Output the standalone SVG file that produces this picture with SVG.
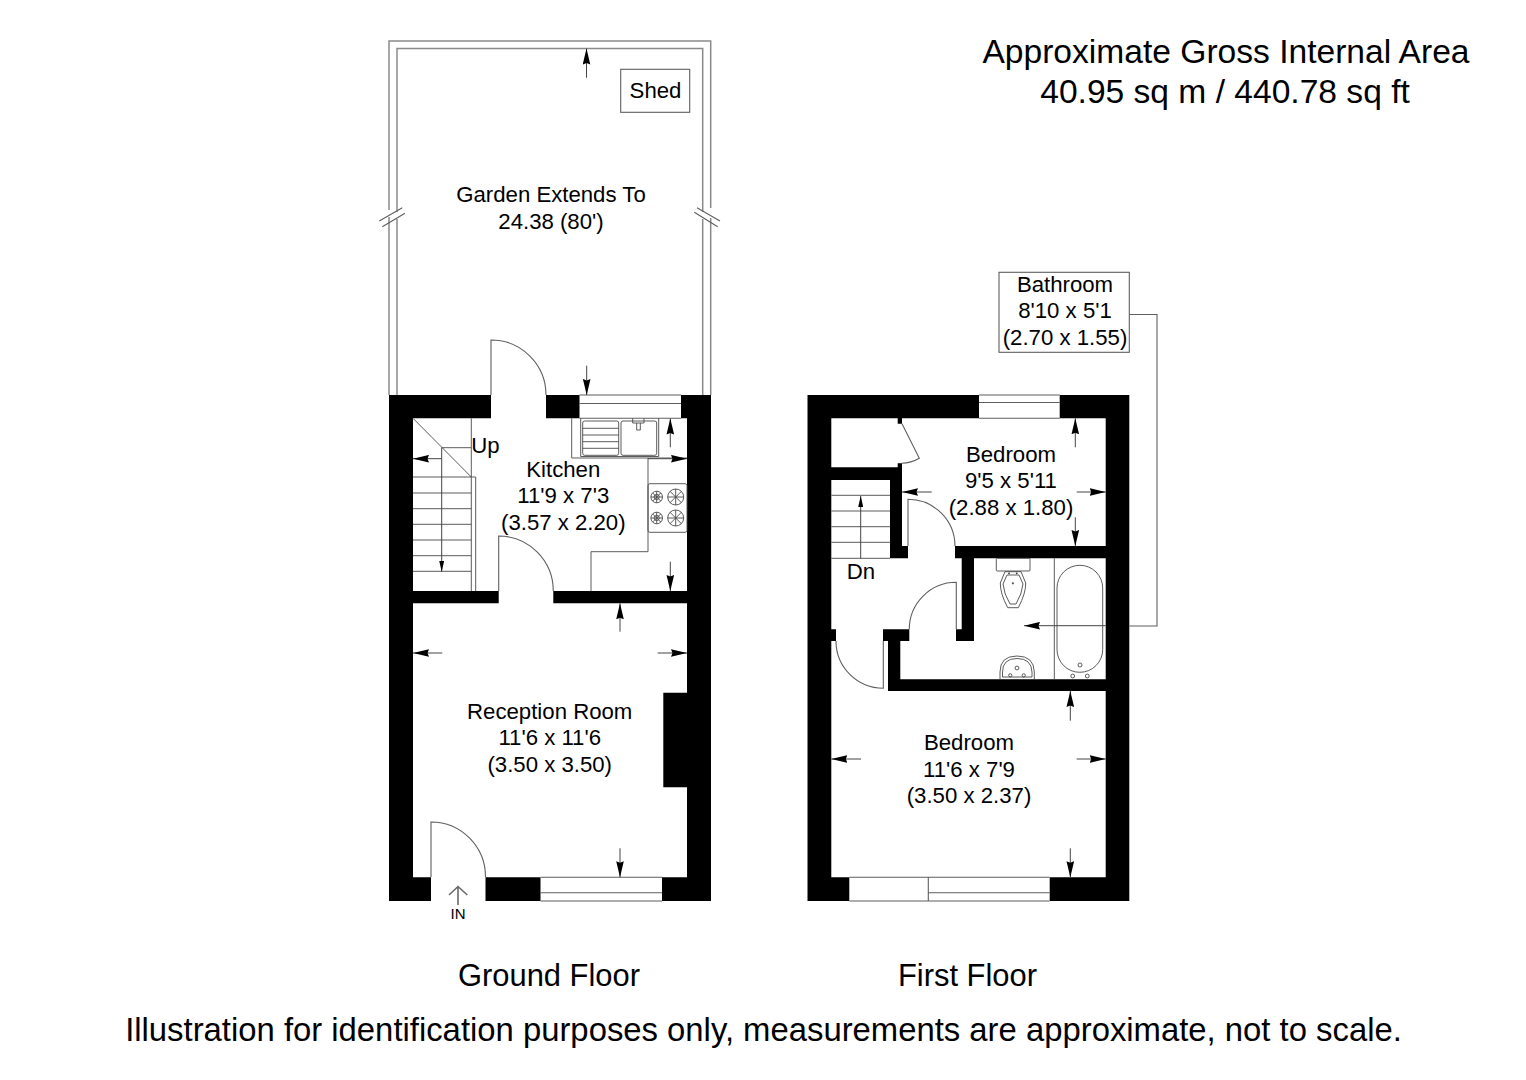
<svg xmlns="http://www.w3.org/2000/svg" width="1526" height="1080" viewBox="0 0 1526 1080">
<style>
text{font-family:"Liberation Sans",Arial,sans-serif;fill:#000;font-size:22.2px;text-anchor:middle}
.wall{fill:#000;stroke:none}
.l{fill:none;stroke:#5f5f5f;stroke-width:1.1}
.g{fill:none;stroke:#8a8a8a;stroke-width:1.5}
.f{fill:none;stroke:#4a4a4a;stroke-width:.9}
.d{fill:none;stroke:#444;stroke-width:1;marker-end:url(#h)}
.s{fill:none;stroke:#444;stroke-width:1;marker-end:url(#hs)}
.big{font-size:33.6px}
.cap{font-size:30.9px}
</style>
<defs>
<marker id="h" markerUnits="userSpaceOnUse" markerWidth="16" markerHeight="8" viewBox="0 0 16 8" refX="16" refY="4" orient="auto"><path d="M0 .2L16 4L0 7.8L1.5 4Z" fill="#000"/></marker>
<marker id="hs" markerUnits="userSpaceOnUse" markerWidth="11" markerHeight="5" viewBox="0 0 11 5" refX="11" refY="2.5" orient="auto"><path d="M0 0L11 2.5L0 5Z" fill="#000"/></marker>
<g id="burner-s"><circle r="5.8" class="f"/><path class="f" d="M-5.8 0H5.8M0-5.8V5.8M-4.1-4.1L4.1 4.1M-4.1 4.1L4.1-4.1"/><circle r="2.6" class="f"/></g>
<g id="burner-l"><circle r="8" class="f"/><path class="f" d="M-8 0H8M0-8V8M-5.7-5.7L5.7 5.7M-5.7 5.7L5.7-5.7"/></g>
</defs>

<g id="garden">
<path class="g" d="M389 395V217M389 210V41H710.7V208M710.7 218V395M397 395V219M397 212V48.5H702.7V212M702.7 219V395"/>
<path class="l" d="M379.3 221L402.3 207.7M382.3 226.7L405 213.3M697 207.7L720 221M694.3 212.3L717.7 226.7"/>
<rect id="shed" class="l" x="620.7" y="69.3" width="69" height="43"/>
<text x="655.5" y="98.3">Shed</text>
<text x="551" y="202">Garden Extends To</text>
<text x="551" y="229">24.38 (80')</text>
</g>

<g id="ground-floor">
<path class="wall" d="M389 395H491V418.3H413V591H498.7V603.3H413V877.3H431V901H389ZM546 395H579.5V418.3H546ZM681 395H711V901H662V877.3H687V603.3H553.3V591H687V418.3H681ZM485.5 877.3H540.5V901H485.5ZM663.3 692.7H687V787.3H663.3Z"/>
<path class="l" d="M579.5 395H681M579.5 403.5H681M579.5 418.3H681M540.5 877.3H662M540.5 892.7H662M540.5 901H662"/>
<path class="l" d="M491 395V340A55 55 0 0 1 546 395M498.7 591V536A54.6 55 0 0 1 553.3 591M431 877.3V822A54.5 55 0 0 1 485.5 877.3"/>
<path class="f" d="M471.3 418.3V591M475.7 477V591M471.3 477H475.7M413 418.3L471.3 477M441.7 447.7H471.3M413 477H471.3M413 493H471.3M413 508.7H471.3M413 524.3H471.3M413 540H471.3M413 555.7H471.3M413 571.3H471.3"/>
<path class="f" d="M571.7 418.3V458H687M648 458V551.7H591V591"/>
<g id="sink">
<path class="f" d="M580.7 418.3V456.5H658.7V418.3"/>
<rect class="f" x="582.7" y="421" width="36" height="34.3" rx="2"/>
<rect class="f" x="621" y="421" width="35.7" height="34.3" rx="2"/>
<path class="f" d="M582.7 428.3H618.7M582.7 435H618.7M582.7 441.7H618.7M582.7 448.3H618.7M632.7 418.3V423H644V418.3M636.7 423V430H640.3V423"/>
</g>
<g id="cooker">
<rect class="f" x="648" y="483.7" width="39" height="48.6" rx="2"/>
<use href="#burner-s" x="656.7" y="497"/><use href="#burner-l" x="675.7" y="497"/>
<use href="#burner-s" x="656.7" y="518"/><use href="#burner-l" x="675.7" y="518"/>
</g>
<path d="M458 905V887M449 895L458 886.5L467.3 895" fill="none" stroke="#6a6a6a" stroke-width="1.6"/>
<text x="458" y="919.3" style="font-size:15px">IN</text>
<text x="485.5" y="453.3">Up</text>
<text x="563.3" y="476.7">Kitchen</text>
<text x="563.3" y="503.3">11'9 x 7'3</text>
<text x="563.3" y="529.5">(3.57 x 2.20)</text>
<text x="549.7" y="719">Reception Room</text>
<text x="549.7" y="745.3">11'6 x 11'6</text>
<text x="549.7" y="771.7">(3.50 x 3.50)</text>
</g>

<g id="first-floor">
<path class="wall" d="M807.5 395H979V418.3H831.3V877.3H849.3V901H807.5ZM1059.7 395H1129.3V901H1049.7V877.3H1105.7V691H888V641H883V629.3H909.3V641H900.3V679.3H1105.7V558.3H974V641H956V629.3H961.7V558.3H955V546H1105.7V418.3H1059.7ZM831.3 467.3H897.7V463.3H902V546H908V558.3H890V480H831.3ZM897.7 418.3H902V423.7H897.7ZM831.3 629.3H836V641H831.3Z"/>
<path class="l" d="M979 395H1059.7M979 402.5H1059.7M979 418.3H1059.7M849.3 877.3H1049.7M849.3 901H1049.7M928.3 877.3V901M928.3 892.7H1049.7"/>
<path class="l" d="M902 423.7L919.3 458.3A38 38 0 0 1 901.7 463.3M908 546V499.3A47 47 0 0 1 955 546M956.3 629.3V582.3A47 47 0 0 0 909.3 629.3M883.3 641V688.3A47.3 47.3 0 0 1 836 641"/>
<path class="f" d="M831.3 495.3H890M831.3 511H890M831.3 526.7H890M831.3 542.3H890M831.3 558.3H890"/>
<path class="f" d="M1054.3 558.3V679.3"/>
<rect class="f" x="1057" y="565.3" width="45.7" height="107" rx="22.8"/>
<circle class="f" cx="1080" cy="665" r="2"/><circle class="f" cx="1072.7" cy="676" r="1.9"/><circle class="f" cx="1087.3" cy="676" r="1.9"/>
<g id="toilet">
<rect class="f" x="996.3" y="558.3" width="33.7" height="12.7" rx="1"/>
<path class="f" d="M1005 571.7H1021L1025.7 583Q1026 593 1018.3 607.7H1007.7Q1000 593 1000.3 583Z"/>
<path class="f" d="M1007 575H1019L1023 584Q1022 594 1016 604H1010Q1004 594 1003 584Z"/>
<circle cx="1009" cy="573.3" r=".9" fill="#333"/><circle cx="1016.7" cy="573.3" r=".9" fill="#333"/><circle cx="1012.9" cy="583.3" r="1.1" fill="#555"/>
</g>
<g id="basin">
<path class="f" d="M1000 679.3V672Q1000 656 1017 656T1034.3 672V679.3"/>
<path class="f" d="M1002.5 677V672Q1002.5 658.5 1017 658.5T1032 672V677H1002.5Z"/>
<circle class="f" cx="1017" cy="668" r="1.9"/><circle class="f" cx="1010.3" cy="675.3" r="1.6"/><circle class="f" cx="1023.7" cy="675.3" r="1.6"/>
</g>
<text x="861" y="579.3">Dn</text>
<text x="1011" y="462.3">Bedroom</text>
<text x="1011" y="488.3">9'5 x 5'11</text>
<text x="1011" y="515">(2.88 x 1.80)</text>
<text x="969" y="750">Bedroom</text>
<text x="969" y="776.7">11'6 x 7'9</text>
<text x="969" y="803.3">(3.50 x 2.37)</text>
</g>

<g id="bathroom-label">
<rect class="l" x="999" y="272.3" width="130.3" height="80" fill="#fff"/>
<text x="1065" y="291.7">Bathroom</text>
<text x="1065" y="318.3">8'10 x 5'1</text>
<text x="1065" y="345">(2.70 x 1.55)</text>
</g>

<g id="connectors">
<path class="l" d="M1129.3 314.5H1157V626H1129.3"/>
<path class="d" d="M1105.7 625.7H1024"/>
<path class="d" d="M586.5 77.7V48.5"/><path class="d" d="M586.7 365.7V395"/>
<path class="d" d="M441.7 458.7H413"/>
<path class="s" d="M441.7 447.7V571.7"/>
<path class="d" d="M670.3 447.3V418.5"/><path class="d" d="M648 458.7H687"/><path class="d" d="M670.3 561.7V591"/>
<path class="d" d="M620 631.7V603.3"/><path class="d" d="M442.3 653H413"/><path class="d" d="M657.7 653H687"/><path class="d" d="M620 848.3V877.3"/>
<path class="d" d="M1075.3 447.3V418.3"/><path class="d" d="M931.7 492H902"/><path class="d" d="M1076.7 492H1105.7"/><path class="d" d="M1075.3 517.3V546"/>
<path class="s" d="M860.7 558.3V496"/>
<path class="d" d="M1070.3 720.7V691"/><path class="d" d="M861 759H831.3"/><path class="d" d="M1076.7 759H1105.7"/><path class="d" d="M1070.3 848.3V877.3"/>
</g>

<g id="captions">
<text class="big" x="1226" y="63">Approximate Gross Internal Area</text>
<text class="big" x="1225" y="103">40.95 sq m / 440.78 sq ft</text>
<text class="cap" x="549" y="986">Ground Floor</text>
<text class="cap" x="967.5" y="986">First Floor</text>
<text class="big" x="763.5" y="1041" style="font-size:32.85px">Illustration for identification purposes only, measurements are approximate, not to scale.</text>
</g>
</svg>
